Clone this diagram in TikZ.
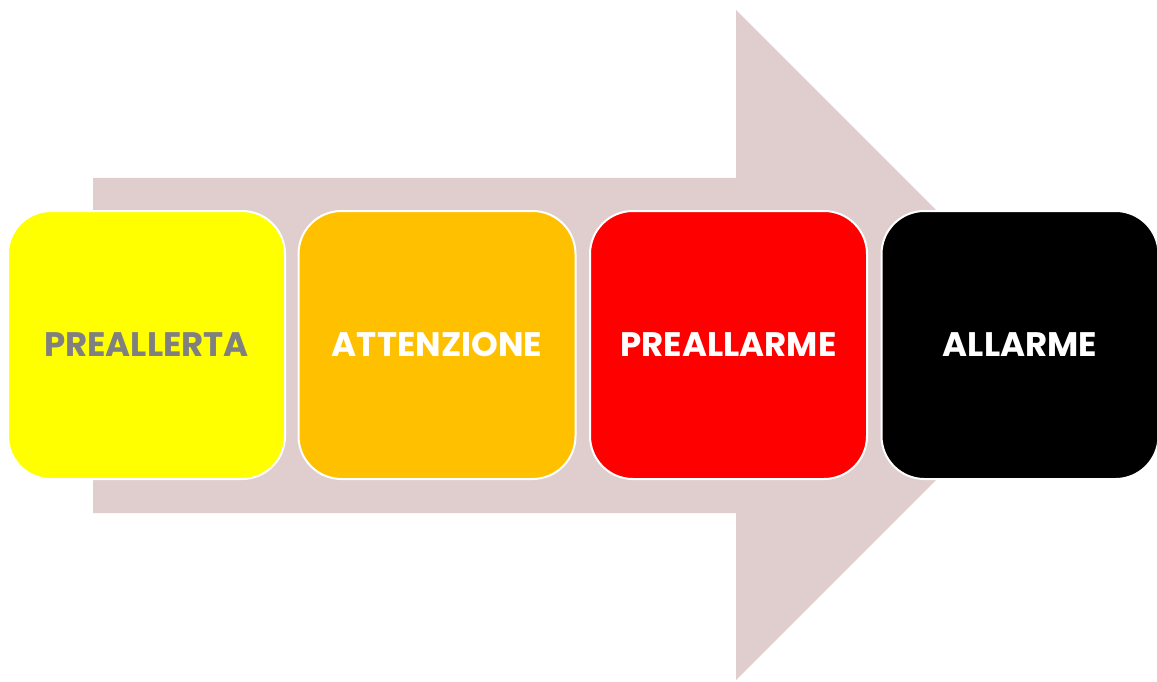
\documentclass[tikz,border=0pt]{standalone}
\usepackage{fontspec}
\setmainfont{Poppins}
\definecolor{arrowc}{HTML}{E0CECE}
\definecolor{txtgray}{HTML}{808080}
\definecolor{yellowc}{HTML}{FFFF00}
\definecolor{orangec}{HTML}{FFC000}
\definecolor{redc}{HTML}{FF0000}
\definecolor{blackc}{HTML}{000000}
\begin{document}
\begin{tikzpicture}[x=1pt,y=-1pt,
  stage/.style={draw=white,line width=2pt,rounded corners=43pt,minimum width=277pt,minimum height=268pt,inner sep=0pt,
    font=\fontsize{34}{40}\selectfont\bfseries},
  bigarrow/.style={fill=arrowc,draw=none}]
\useasboundingbox (0,0) rectangle (1157,682);
\fill[bigarrow] (93,178) -- (736,178) -- (736,10) -- (1071,345) -- (736,680) -- (736,513) -- (93,513) -- cycle;
\node[stage,fill=yellowc,text=txtgray] (s1) at (146.5,345) {PREALLERTA};
\node[stage,fill=orangec,text=white] (s2) at (437,345) {ATTENZIONE};
\node[stage,fill=redc,text=white] (s3) at (728.5,345) {PREALLARME};
\node[stage,fill=blackc,text=white] (s4) at (1020,345) {ALLARME};
\end{tikzpicture}
\end{document}
